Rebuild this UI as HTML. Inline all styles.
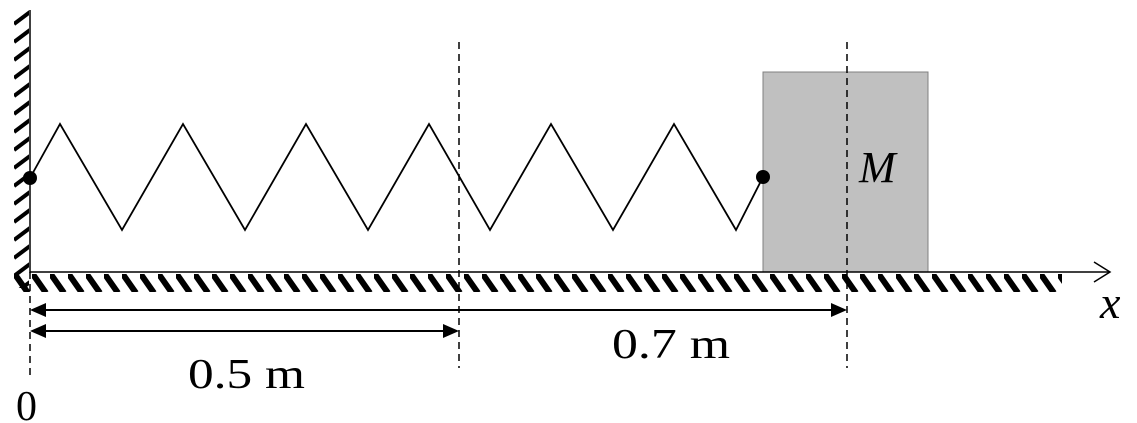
<!DOCTYPE html>
<html><head><style>body{margin:0;background:#fff}svg{display:block}</style></head><body>
<svg width="1137" height="423" viewBox="0 0 1137 423" xmlns="http://www.w3.org/2000/svg">
<defs>
<pattern id="hf" width="18" height="20" patternUnits="userSpaceOnUse" x="14" y="273">
<path d="M0,0 L14,20" stroke="#000" stroke-width="6"/>
</pattern>
<pattern id="hw" width="16" height="18" patternUnits="userSpaceOnUse" x="14" y="10">
<path d="M0,14 L16,2" stroke="#000" stroke-width="4"/>
</pattern>
</defs>
<rect x="14" y="10" width="15" height="278" fill="url(#hw)"/>
<rect x="14" y="274" width="1048" height="18" fill="url(#hf)"/>
<line x1="30" y1="10" x2="30" y2="273" stroke="#000" stroke-width="1.5"/>
<rect x="763" y="72" width="165" height="200" fill="#c0c0c0" stroke="#808080" stroke-width="1"/>
<line x1="30" y1="272" x2="1110" y2="272" stroke="#000" stroke-width="1.5"/>
<polyline points="1094,262 1110,272 1094,282" fill="none" stroke="#000" stroke-width="1.5"/>
<polyline points="30,178 60,124 122,230 183,124 245,230 306,124 368,230 429,124 490,230 551,124 613,230 674,124 736,230 763,177" fill="none" stroke="#000" stroke-width="1.8"/>
<circle cx="30" cy="178" r="7"/>
<circle cx="763" cy="177" r="7"/>
<g stroke="#000" stroke-width="1.5" stroke-dasharray="7,5">
<line x1="30" y1="272" x2="30" y2="375"/>
<line x1="459" y1="42" x2="459" y2="368"/>
<line x1="847" y1="42" x2="847" y2="368"/>
</g>
<line x1="40" y1="310" x2="835" y2="310" stroke="#000" stroke-width="2"/>
<polygon points="30,310 46,303 46,317"/><polygon points="847,310 831,303 831,317"/>
<line x1="40" y1="331" x2="448" y2="331" stroke="#000" stroke-width="2"/>
<polygon points="30,331 46,324 46,338"/><polygon points="459,331 443,324 443,338"/>
<g font-family="Liberation Serif, serif" font-size="42" fill="#000">
<text x="612" y="358" textLength="118" lengthAdjust="spacingAndGlyphs">0.7 m</text>
<text x="188" y="388" textLength="117" lengthAdjust="spacingAndGlyphs">0.5 m</text>
<text x="16" y="420">0</text>
<text x="1100" y="318" font-size="46" font-style="italic">x</text>
<text x="859" y="182" font-size="44" font-style="italic">M</text>
</g>
</svg>
</body></html>
